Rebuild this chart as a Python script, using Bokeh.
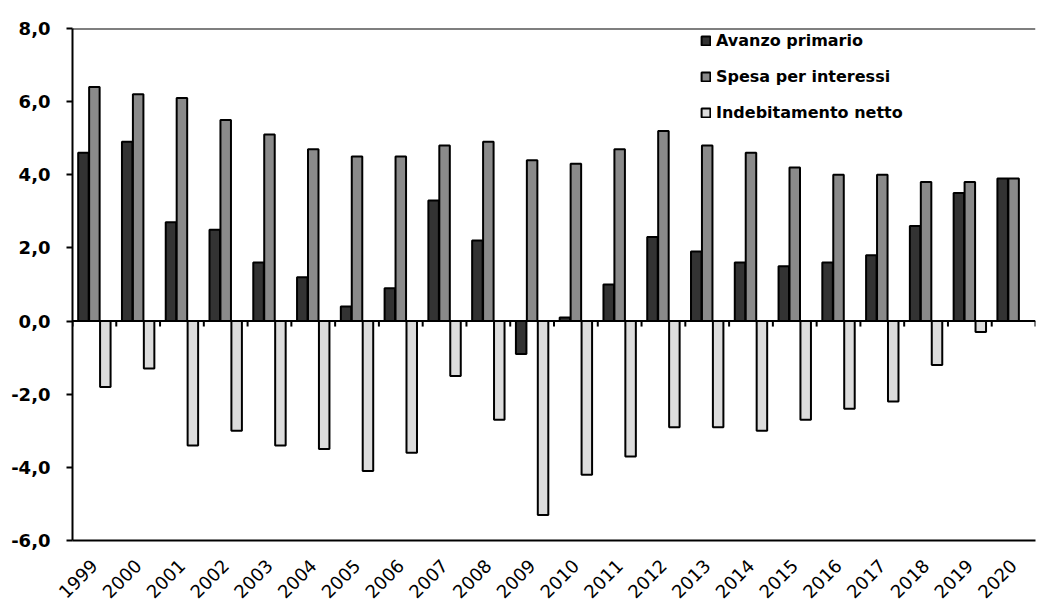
import numpy as np
from bokeh.plotting import figure
from bokeh.models import FixedTicker, Span, Legend, LegendItem, ColumnDataSource
from bokeh.embed import file_html
from bokeh.resources import INLINE

years = [str(y) for y in range(1999, 2021)]
avanzo = [4.6, 4.9, 2.7, 2.5, 1.6, 1.2, 0.4, 0.9, 3.3, 2.2, -0.9, 0.1,
          1.0, 2.3, 1.9, 1.6, 1.5, 1.6, 1.8, 2.6, 3.5, 3.9]
spesa = [6.4, 6.2, 6.1, 5.5, 5.1, 4.7, 4.5, 4.5, 4.8, 4.9, 4.4, 4.3,
         4.7, 5.2, 4.8, 4.6, 4.2, 4.0, 4.0, 3.8, 3.8, 3.9]
indeb = [-1.8, -1.3, -3.4, -3.0, -3.4, -3.5, -4.1, -3.6, -1.5, -2.7, -5.3, -4.2,
         -3.7, -2.9, -2.9, -3.0, -2.7, -2.4, -2.2, -1.2, -0.3, 0.0]
y_ticks = [-6, -4, -2, 0, 2, 4, 6, 8]
series_names = ["Avanzo primario", "Spesa per interessi", "Indebitamento netto"]

idx = np.arange(len(years))
src = ColumnDataSource(dict(
    xa=idx + 0.25, xs=idx + 0.5, xi=idx + 0.75,
    avanzo=avanzo, spesa=spesa, indeb=indeb,
))

FONT = "DejaVu Sans"

p = figure(width=1039, height=608, output_backend="svg", toolbar_location=None,
           x_range=(0, len(years)), y_range=(-6, 8),
           min_border_left=72, min_border_right=4, min_border_top=28, min_border_bottom=68)
p.outline_line_color = None
p.grid.visible = False
p.background_fill_color = "white"

bw = 0.24
ra = p.vbar(x="xa", top="avanzo", bottom=0, width=bw, source=src,
            fill_color="#333333", line_color="black", line_width=2)
rs = p.vbar(x="xs", top="spesa", bottom=0, width=bw, source=src,
            fill_color="#8a8a8a", line_color="black", line_width=2)
ri = p.vbar(x="xi", top="indeb", bottom=0, width=bw, source=src,
            fill_color="#dcdcdc", line_color="black", line_width=2)

# zero line and top frame line
p.add_layout(Span(location=0, dimension="width", line_color="black", line_width=2))
p.add_layout(Span(location=8, dimension="width", line_color="black", line_width=2))

# small boundary ticks below the zero line
bounds = np.arange(len(years) + 1)
p.segment(x0=bounds, y0=0, x1=bounds, y1=-0.15, line_color="black", line_width=2)

# y axis
p.yaxis.ticker = FixedTicker(ticks=y_ticks)
p.yaxis.major_label_overrides = {t: f"{t:.1f}".replace(".", ",") for t in y_ticks}
p.yaxis.axis_line_color = "black"
p.yaxis.axis_line_width = 2
p.yaxis.major_tick_out = 6
p.yaxis.major_tick_in = 0
p.yaxis.major_tick_line_width = 2
p.yaxis.minor_tick_line_color = None
p.yaxis.major_label_standoff = 16
p.yaxis.major_label_text_font = FONT
p.yaxis.major_label_text_font_size = "18px"
p.yaxis.major_label_text_font_style = "bold"
p.yaxis.major_label_text_color = "black"

# x axis
p.xaxis.ticker = FixedTicker(ticks=list(idx + 0.5))
p.xaxis.major_label_overrides = {float(i + 0.5): y for i, y in enumerate(years)}
p.xaxis.major_label_orientation = np.pi / 4
p.xaxis.axis_line_color = "black"
p.xaxis.axis_line_width = 2
p.xaxis.major_tick_line_color = None
p.xaxis.minor_tick_line_color = None
p.xaxis.major_label_standoff = 16
p.xaxis.major_label_text_font = FONT
p.xaxis.major_label_text_font_size = "18px"
p.xaxis.major_label_text_color = "black"

legend = Legend(items=[LegendItem(label=series_names[0], renderers=[ra]),
                       LegendItem(label=series_names[1], renderers=[rs]),
                       LegendItem(label=series_names[2], renderers=[ri])],
                location=(628, 418))
legend.background_fill_alpha = 0
legend.border_line_color = None
legend.padding = 0
legend.spacing = 16
legend.label_height = 20
legend.glyph_height = 11
legend.glyph_width = 11
legend.label_standoff = 5
legend.label_text_font = FONT
legend.label_text_font_size = "16px"
legend.label_text_font_style = "bold"
legend.label_text_color = "black"
p.add_layout(legend)

open("out.html", "w").write(file_html(p, INLINE))
